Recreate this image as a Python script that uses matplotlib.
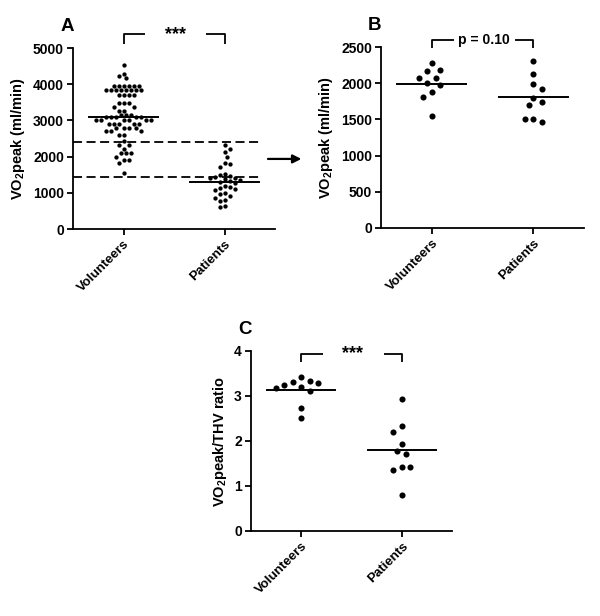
import numpy as np
import matplotlib
matplotlib.use('Agg')
import matplotlib.pyplot as plt
from matplotlib.patches import FancyArrowPatch

plt.rcParams['font.family'] = ['Liberation Sans', 'DejaVu Sans']
plt.rcParams['font.weight'] = 'bold'
plt.rcParams['mathtext.fontset'] = 'custom'
plt.rcParams['mathtext.rm'] = 'Liberation Sans:bold'
plt.rcParams['mathtext.bf'] = 'Liberation Sans:bold'
plt.rcParams['mathtext.default'] = 'rm'

groups = ['Volunteers', 'Patients']

# panel A: all subjects, VO2peak (ml/min)
a_vol = [4540, 4290, 4240, 4170,
         3960, 3960, 3960, 3960, 3960, 3960,
         3830, 3830, 3830, 3830, 3830, 3830, 3830, 3830,
         3690, 3690, 3690, 3690, 3480, 3480, 3480, 3385, 3385,
         3265, 3265, 3145, 3145, 3145,
         3090, 3090, 3090, 3090, 3090,
         3015, 3015, 3015, 3015, 3015, 3015,
         2905, 2905, 2905, 2905, 2905, 2785, 2785, 2785, 2785,
         2695, 2695, 2695, 2600, 2600, 2440, 2330, 2330, 2215,
         2095, 2095, 2095, 2000, 1910, 1910, 1820, 1540]
a_pat = [2330, 2220, 2120, 2000, 1830, 1800, 1720, 1530, 1480, 1470, 1450,
         1420, 1400, 1380, 1350, 1320, 1300, 1260, 1200, 1150, 1120, 1100,
         1080, 1000, 960, 900, 870, 800, 780, 650, 600]
a_mean = [3100, 1310]
a_cutoffs = [2400, 1440]

# panel B: matched subgroup
b_vol = [2280, 2188, 2170, 2073, 2073, 2009, 1972, 1881, 1812, 1546]
b_pat = [2303, 2124, 1995, 1917, 1798, 1734, 1697, 1505, 1505, 1468]
b_mean = [1995, 1805]

# panel C: VO2peak / THV ratio
c_vol = [3.42, 3.33, 3.31, 3.29, 3.24, 3.20, 3.18, 3.11, 2.74, 2.51]
c_pat = [2.94, 2.34, 2.20, 1.93, 1.77, 1.70, 1.43, 1.43, 1.35, 0.80]
c_mean = [3.13, 1.79]


def swarm_x(ax, vals, center, dot_px):
    """simple beeswarm: place each dot at the smallest free offset (pixel space)"""
    fig = ax.figure
    bb = ax.get_position()
    w_px = bb.width * fig.get_figwidth() * fig.dpi
    h_px = bb.height * fig.get_figheight() * fig.dpi
    x0, x1 = ax.get_xlim(); y0, y1 = ax.get_ylim()
    sx = w_px / (x1 - x0); sy = h_px / (y1 - y0)
    ys = np.asarray(vals, float) * sy
    order = np.argsort(-ys)
    placed = []
    xs = np.zeros(len(ys))
    step = dot_px / 2
    for k, i in enumerate(order):
        cands = [0.0]
        for m in range(1, 40):
            if k % 2:
                cands += [m * step, -m * step]
            else:
                cands += [-m * step, m * step]
        for c in cands:
            if all((c - px) ** 2 + (ys[i] - py) ** 2 >= (dot_px * 0.98) ** 2
                   for px, py in placed):
                break
        placed.append((c, ys[i]))
        xs[i] = c
    return center + xs / sx


def style_axes(ax, ylim, yticks, ylabel):
    ax.set_xlim(-0.5, 1.5)
    ax.set_ylim(*ylim)
    ax.set_yticks(yticks)
    ax.set_xticks([0, 1])
    ax.set_xticklabels(groups, rotation=45, ha='right', rotation_mode='anchor',
                       fontsize=9.5, fontweight='bold')
    for lab in ax.get_yticklabels():
        lab.set_fontsize(10); lab.set_fontweight('bold')
    for s in ['top', 'right']:
        ax.spines[s].set_visible(False)
    for s in ['left', 'bottom']:
        ax.spines[s].set_linewidth(1.3)
    ax.tick_params(width=1.3, length=4.5, pad=2)
    ax.set_ylabel(ylabel, fontsize=10.5, fontweight='bold', labelpad=4)


def bracket(ax, top, bottom, text, fs):
    kw = dict(color='black', lw=1.3, clip_on=False, solid_capstyle='butt')
    ax.plot([0, 0, 0.215], [bottom, top, top], **kw)
    ax.plot([0.82, 1, 1], [top, top, bottom], **kw)
    ax.text(0.51, top, text, ha='center', va='center', fontsize=fs,
            fontweight='bold', clip_on=False)


def draw_group(ax, vals_list, means, ms, dot_px, half=0.34):
    for g, (vals, mu) in enumerate(zip(vals_list, means)):
        xs = swarm_x(ax, vals, g, dot_px)
        ax.plot(xs, vals, 'o', color='black', ms=ms, mec='none', zorder=3)
        ax.plot([g - half, g + half], [mu, mu], color='black', lw=1.4, zorder=4)


fig = plt.figure(figsize=(6, 6.16), dpi=100)
axA = fig.add_axes([0.1217, 0.6282, 0.3367, 0.2938])
axB = fig.add_axes([0.635, 0.6299, 0.338, 0.2938])
axC = fig.add_axes([0.4183, 0.138, 0.335, 0.2922])

ylab_vo2 = r'VO$_{2}$peak (ml/min)'

style_axes(axA, (0, 5000), range(0, 5001, 1000), ylab_vo2)
draw_group(axA, [a_vol, a_pat], a_mean, ms=3.1, dot_px=5.0)
for c in a_cutoffs:
    axA.plot([-0.5, 1.36], [c, c], color='black', lw=1.3, ls=(0, (5, 2.5)),
             zorder=2)
bracket(axA, 5380, 5110, '***', 13)

style_axes(axB, (0, 2500), range(0, 2501, 500), ylab_vo2)
draw_group(axB, [b_vol, b_pat], b_mean, ms=4.4, dot_px=8.5)
bracket(axB, 2590, 2490, 'p = 0.10', 10)

style_axes(axC, (0, 4), range(0, 5), r'VO$_{2}$peak/THV ratio')
draw_group(axC, [c_vol, c_pat], c_mean, ms=4.4, dot_px=8.5)
bracket(axC, 3.94, 3.75, '***', 13)

for ax, lab in [(axA, 'A'), (axB, 'B'), (axC, 'C')]:
    ax.text(-0.03, 1.12, lab, transform=ax.transAxes, fontsize=13.5,
            fontweight='bold', ha='center', va='center')

arrow = FancyArrowPatch((0.442, 0.742), (0.507, 0.742), transform=fig.transFigure,
                        arrowstyle='-|>,head_length=5,head_width=2.5',
                        color='black', lw=1.6, mutation_scale=1)
fig.patches.append(arrow)

fig.savefig('out.png', dpi=100)
